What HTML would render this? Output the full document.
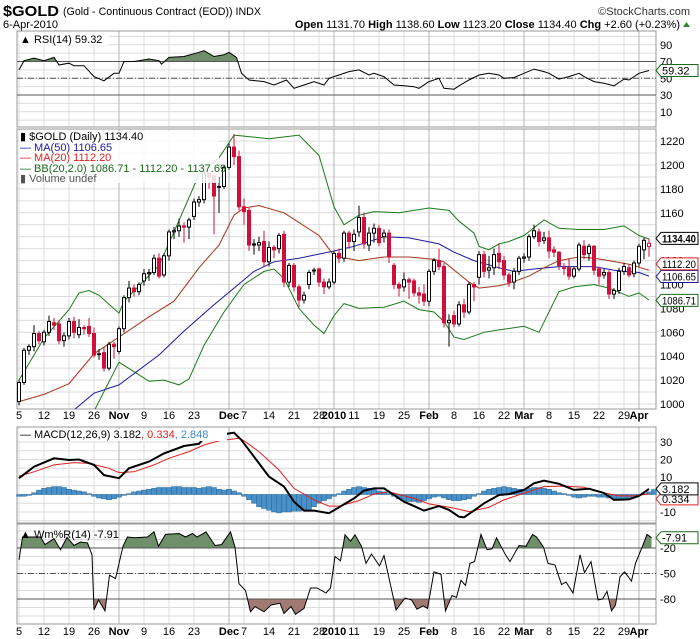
<!DOCTYPE html>
<html><head><meta charset="utf-8"><title>$GOLD chart</title>
<style>
html,body{margin:0;padding:0;background:#fff;}
svg{display:block;font-family:"Liberation Sans",sans-serif;}
</style></head>
<body>
<svg id="chart" width="700" height="639" viewBox="0 0 700 639" xmlns="http://www.w3.org/2000/svg">
<rect x="0" y="0" width="700" height="639" fill="#fff"/>
<text x="3" y="16" font-size="15" font-weight="bold" fill="#000" textLength="56" lengthAdjust="spacingAndGlyphs">$GOLD</text>
<text x="63" y="15" font-size="11" fill="#000" textLength="198" lengthAdjust="spacingAndGlyphs">(Gold - Continuous Contract (EOD)) INDX</text>
<text x="690" y="15" font-size="11" fill="#333" text-anchor="end">©StockCharts.com</text>
<text x="3" y="28" font-size="11" fill="#000">6-Apr-2010</text>
<text x="680" y="28" font-size="11" fill="#000" text-anchor="end"><tspan font-weight="bold">Open</tspan> 1131.70 <tspan font-weight="bold">High</tspan> 1138.60 <tspan font-weight="bold">Low</tspan> 1123.20 <tspan font-weight="bold">Close</tspan> 1134.40 <tspan font-weight="bold">Chg</tspan> +2.60 (+0.23%)</text>
<polygon points="683,27 690,27 686.5,22" fill="#2a8a2a"/>
<g id="layer"></g>
</svg>
<script>
// ---- data ----
const opens=[1002,1018,1045,1048,1059,1052,1060,1068,1067,1053,1057,1069,1058,1064,1065,1059,1042,1043,1030,1050,1044,1063,1089,1097,1094,1103,1109,1110,1122,1108,1124,1144,1145,1149,1148,1157,1169,1171,1193,1191,1182,1182,1198,1215,1207,1165,1162,1134,1133,1136,1119,1131,1130,1142,1102,1116,1098,1087,1100,1112,1113,1102,1098,1102,1126,1122,1143,1136,1144,1156,1133,1143,1147,1140,1143,1116,1100,1098,1104,1103,1093,1092,1086,1111,1120,1115,1068,1074,1067,1083,1077,1100,1106,1125,1112,1114,1126,1120,1108,1102,1111,1122,1123,1140,1144,1137,1139,1129,1127,1114,1114,1107,1113,1132,1126,1132,1113,1108,1110,1092,1095,1111,1114,1109,1118,1129,1131.7];
const highs=[1020,1047,1050,1066,1061,1062,1074,1072,1070,1060,1072,1073,1071,1066,1072,1064,1046,1048,1052,1052,1065,1091,1103,1100,1102,1113,1113,1125,1126,1126,1146,1148,1155,1152,1156,1172,1174,1195,1194,1193,1190,1200,1218,1226,1212,1172,1164,1138,1140,1145,1136,1133,1143,1145,1118,1118,1100,1094,1112,1114,1114,1105,1105,1128,1130,1145,1145,1146,1166,1160,1148,1151,1150,1146,1146,1118,1102,1110,1106,1105,1098,1100,1113,1122,1130,1118,1075,1078,1086,1088,1102,1102,1128,1128,1124,1130,1134,1124,1110,1114,1124,1126,1142,1150,1147,1144,1145,1132,1128,1118,1122,1115,1135,1137,1134,1133,1115,1113,1112,1097,1114,1118,1117,1120,1134,1139,1138.6];
const lows=[999,1016,1041,1044,1050,1049,1057,1062,1050,1048,1054,1055,1055,1058,1056,1039,1037,1027,1028,1038,1042,1060,1085,1090,1091,1099,1103,1108,1105,1106,1120,1138,1140,1135,1138,1154,1165,1168,1180,1142,1160,1180,1196,1200,1162,1150,1128,1125,1128,1115,1115,1122,1126,1098,1098,1094,1081,1084,1096,1108,1098,1092,1096,1100,1118,1119,1130,1128,1140,1130,1128,1135,1132,1135,1118,1096,1090,1094,1088,1090,1084,1082,1082,1108,1112,1064,1048,1064,1065,1072,1075,1086,1100,1106,1105,1108,1113,1104,1098,1096,1108,1118,1120,1138,1132,1134,1122,1123,1112,1108,1104,1105,1111,1121,1120,1108,1100,1105,1088,1088,1092,1108,1106,1106,1115,1121,1123.2];
const closes=[1018,1045,1048,1059,1053,1060,1069,1066,1053,1057,1069,1060,1064,1063,1059,1041,1042,1030,1050,1048,1063,1089,1097,1094,1100,1109,1110,1122,1107,1124,1144,1145,1149,1148,1154,1169,1171,1193,1190,1174,1182,1198,1215,1207,1165,1161,1133,1133,1135,1119,1131,1129,1141,1102,1116,1098,1087,1091,1110,1112,1102,1098,1102,1126,1122,1143,1136,1142,1156,1134,1143,1147,1135,1143,1123,1100,1097,1104,1102,1093,1091,1086,1111,1120,1115,1068,1070,1067,1083,1077,1100,1098,1125,1111,1114,1125,1119,1108,1102,1111,1122,1123,1140,1145,1136,1139,1128,1127,1116,1114,1107,1113,1133,1125,1132,1112,1107,1110,1092,1095,1111,1115,1108,1118,1132,1137,1134.4];

const ma20Idx=[0,5,10,15,20,26,31,36,40,43,45,48,53,60,63,68,73,78,83,85,90,92,96,98,102,105,108,112,115,118,122,126];
const ma20Val=[1002,1008,1017,1042,1056,1073,1086,1114,1133,1158,1164,1166,1160,1141,1124,1120,1123,1123,1121,1119,1102,1097,1099,1101,1107,1114,1120,1123,1122,1120,1117,1112];
const bbUpIdx=[0,5,10,12,14,16,20,21,28,31,36,40,43,50,56,60,63,65,68,71,76,82,86,88,91,92,94,96,98,101,105,108,112,117,121,124,126];
const bbUpVal=[1020,1055,1079,1093,1095,1091,1076,1086,1116,1144,1192,1206,1225,1222,1225,1208,1165,1150,1158,1161,1160,1164,1162,1153,1143,1132,1129,1134,1136,1141,1154,1147,1146,1146,1149,1141,1138];
const bbLoIdx=[0,8,15,20,23,26,29,32,34,37,41,45,49,51,53,56,59,61,63,65,68,73,77,80,83,85,87,89,93,96,101,104,108,111,115,118,122,124,126];
const bbLoVal=[960,968,994,1035,1027,1019,1020,1016,1021,1049,1077,1100,1111,1113,1105,1080,1066,1059,1074,1084,1080,1081,1086,1079,1077,1069,1056,1054,1060,1062,1065,1060,1094,1098,1100,1097,1090,1093,1087];
const ma50Idx=[0,6,11,15,20,28,33,39,43,47,51,56,63,67,73,78,84,87,91,96,99,103,108,115,119,124,126];
const ma50Val=[975,985,995,1009,1016,1041,1061,1083,1097,1111,1119,1122,1128,1132,1140,1139,1134,1127,1120,1114,1111,1113,1115,1115,1112,1110,1107];

const rsiIdx=[0,1,3,5,7,8,10,11,13,15,17,19,20,21,23,26,28,28.5,30,33,36,37,39,41,42,43.5,44.5,46,49,51,53.5,55,57,59,61,62,64,66,68,70,71,73,75,77,79,80,82,84,85,87,88,90,92,94,96,97,99,101,103,105,106,108,110,112,113,115,117,119,121,122,124,126];
const rsiVal=[60,71,74,71,75,66,68,65,65,52,47,56,56,70,70,73,71,67,75,76,81,83,76,78,81,75,56,48,46,42,48,38,42,46,42,50,54,58,60,54,56,52,42,41,40,38,46,50,38,37,41,48,54,56,54,50,51,56,61,58,56,49,52,56,52,46,44,41,49,48,56,59.3];

const macdIdx=[0,3,7,10,12,15,17,20,22,26,29,33,36,37,40,43,44.5,47,50,53,55,57,59,62,64,67,69,71,73,75,77,79,81,84,86,88,89,91,93,96,98,101,103,105,108,111,114,117,119,122,124,126];
const macdVal=[9.3,15.9,20.7,19.7,20,16.9,11.1,9.3,15,18.8,23.5,27.7,29,32.3,34,35.3,31.1,21.6,10.2,4.5,-4.1,-9.2,-9.2,-10.7,-7.3,-2.2,2.2,3.5,3.5,-0.3,-4.1,-6.6,-9.2,-6.6,-8.8,-12.7,-13,-9.2,-5,-0.3,0.2,2.6,6.4,7.9,6.1,2.6,3.3,0.8,-3.1,-2.8,-0.8,3.18];
const sigIdx=[0,3,7,11,14,18,20,23,27,30,34,37,40,44,45,48,52,55,59,62,64,68,71,74,79,82,87,90,94,97,101,105,109,113,116,120,123,126];
const sigVal=[10.5,13,16.9,18.2,17.8,15,12.5,13,16.9,20.7,24.5,28.3,30.7,32.1,30.7,24.5,14,3.5,-3.1,-6.6,-6.6,-3.5,0.2,1.5,-2.2,-5.4,-7.8,-9.8,-7.3,-3.1,0.8,4.5,4.8,4.1,1.5,-0.8,-0.8,0.33];
const histVal=[-1,-1,-0.5,1,2.5,3.5,4,4.5,4.5,4,3,2.5,2,1.5,0.5,-1,-2,-2.5,-3,-2.5,-1.5,-0.5,0.5,1.5,2,2.5,3,3.5,4,4,4,4.5,4.5,4,4,4,3.5,4,4.5,4,3,2.5,3,2,1,-1,-3,-5,-7,-8,-9,-10,-10.5,-10,-10,-9.5,-9.5,-9,-8.5,-7,-5,-3.5,-2.5,-1,0.5,2,3,4,4.5,4,3.5,3,2,1.5,0.5,-1,-2.5,-3.5,-4,-4,-4.5,-3.5,-2.5,-1.5,-1,-2,-3,-3.5,-3.5,-3,-2.5,-1,0.5,2,3,3.5,4,4.5,4,3.5,3,3,3.5,4,4,3.5,3,2,1,0.5,-0.5,-1.5,-2,-1.5,-1,-1,-1.5,-1.5,-2,-2.5,-3,-3,-2.5,-1.5,-0.5,0.5,1.5,2.85];

const wrIdx=[0,0.7,4.3,5.2,7,8.3,9.6,11,12.3,13.7,14.6,15,15.9,17.2,18.1,19.3,20.8,21.7,23,25.7,27,27.9,29.3,32,33.3,34.7,35.6,37.4,39.2,40.5,42.3,43.2,44,45.3,46.3,47.2,49,50.4,52.2,53,54.4,55.3,57,58.3,59.6,61.4,62.3,63.2,64.3,65.2,66.3,67.2,68.5,69.4,70.5,72.1,73,74.1,75.4,77.2,78.5,79.6,80.8,81.7,83,84.4,85.3,86.6,87.5,88.4,89.3,90.2,91.1,92.4,93.6,94.6,95.5,97.3,98.2,100,101.4,102.7,103.5,104.9,105.8,107.2,108.5,109.4,110.8,112.2,113.1,114.4,115.8,116.7,117.6,118.5,119.3,120.2,121.1,122.5,123.3,124.7,125.6,126.5];
const wrVal=[-34,-7,-7,-16,-9,-22,-7.5,-17,-13,-14,-28,-93,-81,-94,-52,-56,-18,-7,-8,-7,-1,-18,-4,-3,-7,-3,-7,-1,-17,-16,-1,-19,-62,-70,-95,-89,-95,-87,-85,-97,-89,-98,-91,-67,-67,-73,-67,-30,-35,-4.5,-12,-4.5,-18,-38,-27,-41,-29,-58,-93,-79,-81,-92,-88,-91,-48,-51,-94,-76,-78,-58,-64,-38,-36,-4,-22,-21,-8,-28,-36,-17,-18,-4,-7,-19,-38,-40,-63,-60,-73,-28,-49,-36,-81,-80,-71,-94,-87,-54,-48,-59,-38,-18,-4,-7.9];

const tickIdx=[0,5,10,15,20,25,30,35,42,45,50,55,60,63,67,72,77,82,87,92,97,101,106,111,116,121,124];
const tickLbl=["5","12","19","26","Nov","9","16","23","Dec","7","14","21","28","2010","11","19","25","Feb","8","16","22","Mar","8","15","22","29","Apr"];
const tickMajor=[0,0,0,0,1,0,0,0,1,0,0,0,0,1,0,0,0,1,0,0,0,1,0,0,0,0,1];
const priceTicks=[1000,1020,1040,1060,1080,1100,1120,1140,1160,1180,1200,1220];

// ---- axes ----
const L=17,R=656;
const P={top:129,bot:409}, RS={top:31,bot:127}, MC={top:427,bot:523}, WR={top:524,bot:624};
const xOf=i=>19+5*i;
const yP=v=>404-(v-1000)*1.195;
const yR=v=>78.3-(v-50)*0.8375;
const yM=v=>494.5-v*1.75;
const yW=v=>531-v*0.85;

const NS="http://www.w3.org/2000/svg";
const layer=document.getElementById('layer');
function mk(tag,attrs,parent){const e=document.createElementNS(NS,tag);for(const k in attrs)e.setAttribute(k,attrs[k]);(parent||layer).appendChild(e);return e;}

const defs=mk('defs',{});
[['clipP',P],['clipR',RS],['clipM',MC],['clipW',WR]].forEach(([id,b])=>{const c=mk('clipPath',{id:id},defs);mk('rect',{x:L,y:b.top,width:R-L,height:b.bot-b.top},c);});

function panel(name,b,hvals,yf){
  const g=mk('g',{});
  
  
  hvals.forEach(v=>{const y=yf(v);if(y>b.top&&y<b.bot){const l=mk('line',{x1:L,x2:R,y1:y,y2:y,stroke:'#dcdcdc','stroke-width':1},g);}});
  tickIdx.forEach((t,k)=>{const x=xOf(t);const l=mk('line',{x1:x,x2:x,y1:b.top,y2:b.bot,stroke:tickMajor[k]?'#b4b4b4':'#dcdcdc','stroke-width':1},g);});
  const r=mk('rect',{x:L,y:b.top,width:R-L,height:b.bot-b.top,fill:'none',stroke:'#999','stroke-width':1},g);
  
  
  return g;
}
function rng(a,b,s){const o=[];for(let v=a;v<=b;v+=s)o.push(v);return o;}
panel('rsi',RS,rng(0,100,10),yR);
panel('price',P,rng(1000,1230,10),yP);
panel('macd',MC,rng(-15,35,5),yM);
panel('wmr',WR,rng(-100,0,10),yW);

function path(idx,val,xf,yf){return idx.map((t,k)=>(k?'L':'M')+xf(t).toFixed(1)+','+yf(val[k]).toFixed(1)).join(' ');}
function hline(y,st,dash,name){const l=mk('line',{x1:L,x2:R,y1:y,y2:y,stroke:st,'stroke-width':1});if(dash)l.setAttribute('stroke-dasharray',dash);}
function fillAbove(idx,val,yf,thr,color,clipId,below,name){
  const yT=yf(thr);
  const d=path(idx,val,xOf,yf)+' L'+xOf(idx[idx.length-1])+','+yT+' L'+xOf(idx[0])+','+yT+' Z';
  const cid=clipId+(below?'b':'a')+thr;
  const c=mk('clipPath',{id:cid},defs);
  if(below) mk('rect',{x:L,y:yT,width:R-L,height:200},c); else mk('rect',{x:L,y:yT-200,width:R-L,height:200},c);
  const p=mk('path',{d:d,fill:color,'clip-path':'url(#'+cid+')'});
  
  
}

// ---- RSI ----
fillAbove(rsiIdx,rsiVal,yR,70,'#6f8f6a','rsi',false,'rsi-overbought-fill');
hline(yR(70),'#555',null,'rsi-70-line');
hline(yR(30),'#555',null,'rsi-30-line');
hline(yR(50),'#555','6,2,1,2','rsi-50-line');
let e=mk('path',{d:path(rsiIdx,rsiVal,xOf,yR),fill:'none',stroke:'#000','stroke-width':1,'clip-path':'url(#clipR)'});



// ---- price ----
function line(idx,val,yf,col,name,clip,w,dash){const p=mk('path',{d:path(idx,val,xOf,yf),fill:'none',stroke:col,'stroke-width':w||1,'clip-path':'url(#'+clip+')'});if(dash)p.setAttribute('stroke-dasharray',dash);}
line(bbUpIdx,bbUpVal,yP,'#1a7a1a','bb-upper-band','clipP');
line(bbLoIdx,bbLoVal,yP,'#1a7a1a','bb-lower-band','clipP');
line(ma50Idx,ma50Val,yP,'#1a1aa0','ma50-line','clipP');
line(ma20Idx,ma20Val,yP,'#e02020','ma20-line','clipP');
line(ma20Idx,ma20Val,yP,'#2a7a2a','bb-middle-band','clipP',1,'1,2');
for(let i=0;i<closes.length;i++){
  const o=opens[i],c=closes[i],h=highs[i],l=lows[i];
  const prev=i?closes[i-1]:o;
  const col=c<prev?'#d0103a':'#000';
  const x=xOf(i);
  const g=mk('g',{});
  
  
  mk('line',{x1:x,x2:x,y1:yP(h),y2:yP(l),stroke:col,'stroke-width':1},g);
  const top=yP(Math.max(o,c)),bot=yP(Math.min(o,c));
  mk('rect',{x:x-1.5,y:top,width:3,height:Math.max(bot-top,0.8),fill:c<o?col:'#fff',stroke:col,'stroke-width':1},g);
}

// ---- MACD ----
for(let i=0;i<histVal.length;i++){
  const v=histVal[i],y0=yM(0),y1=yM(v);
  const r=mk('rect',{x:xOf(i)-2.5,y:Math.min(y0,y1),width:5,height:Math.abs(y1-y0),fill:'#4a90c8',stroke:'#2a6a9a','stroke-width':0.5});
  
  
}
line(sigIdx,sigVal,yM,'#e02020','macd-signal-line','clipM');
line(macdIdx,macdVal,yM,'#000','macd-line','clipM',2);

// ---- Williams %R ----
fillAbove(wrIdx,wrVal,yW,-20,'#6f8f6a','wr',false,'wmr-overbought-fill');
fillAbove(wrIdx,wrVal,yW,-80,'#a07a72','wr',true,'wmr-oversold-fill');
hline(yW(-20),'#555',null,'wmr-20-line');
hline(yW(-80),'#555',null,'wmr-80-line');
hline(yW(-50),'#555','6,2,1,2','wmr-50-line');
line(wrIdx,wrVal,yW,'#000','wmr-line','clipW');

// ---- axis labels ----
function txt(x,y,s,attrs,name){const t=mk('text',Object.assign({x:x,y:y,'font-size':11,fill:'#000'},attrs||{}));t.textContent=s;return t;}
[90,70,50,30,10].forEach(v=>txt(660,yR(v)+4,String(v),{},'rsi-axis-label'));
priceTicks.forEach(v=>txt(660,yP(v)+4,String(v),{},'price-axis-label'));
[30,20,10,-10].forEach(v=>txt(660,yM(v)+4,String(v),{},'macd-axis-label'));
[-20,-50,-80].forEach(v=>txt(660,yW(v)+4,String(v),{},'wmr-axis-label'));
tickIdx.forEach((t,k)=>{
  [419,635].forEach(y=>txt(xOf(t),y,tickLbl[k],{'text-anchor':'middle','font-weight':tickMajor[k]?'bold':'normal'},'date-axis-label'));
});

// ---- value tags ----
function tag(y,s,col,bold,name){
  const g=mk('g',{});
  
  
  mk('path',{d:`M${R},${y} L${R+5},${y-6} L${R+42},${y-6} L${R+42},${y+6} L${R+5},${y+6} Z`,fill:'#fff',stroke:col,'stroke-width':1},g);
  const at={x:R+6,y:y+4,'font-size':11,fill:'#000','font-weight':bold?'bold':'normal'};
  if(s.length>=7){at.textLength=34;at.lengthAdjust='spacingAndGlyphs';}
  const t=mk('text',at,g);t.textContent=s;
}
tag(yR(59.32),'59.32','#1a6a1a',false,'rsi-value-tag');
tag(yP(1086.71),'1086.71','#1a6a1a',false,'bb-lower-value-tag');
tag(yP(1106.65),'1106.65','#1a1aa0',false,'ma50-value-tag');
tag(yP(1112.20)-6,'1112.20','#e02020',false,'ma20-value-tag');
tag(yP(1134.40)-5,'1134.40','#000',true,'close-value-tag');
tag(yM(0.334)+5,'0.334','#e02020',false,'macd-signal-tag');
tag(yM(3.182),'3.182','#000',false,'macd-value-tag');
tag(yW(-7.91),'-7.91','#1a6a1a',false,'wmr-value-tag');

// ---- legends ----
function legend(x,y,parts,name){
  const t=mk('text',{x:x,y:y,'font-size':11,fill:'#000'});
  
  
  parts.forEach(p=>{const s=mk('tspan',{fill:p[1]},t);s.textContent=p[0];});
}
const lg=mk('rect',{x:19,y:33,width:90,height:12,fill:'#fff'});


legend(20,43,[['▲ RSI(14) 59.32','#000']],'rsi-legend');
const pl=mk('rect',{x:19,y:131,width:200,height:52,fill:'#fff','fill-opacity':0.85});


legend(20,140,[['▮ $GOLD (Daily) 1134.40','#000']],'price-legend-symbol');
legend(20,151,[['— MA(50) 1106.65','#1a1aa0']],'legend-ma50');
legend(20,161,[['— MA(20) 1112.20','#e02020']],'legend-ma20');
legend(20,172,[['— BB(20,2.0) 1086.71 - 1112.20 - 1137.69','#1a6a1a']],'legend-bb');
legend(20,182,[['▮ Volume undef','#555']],'legend-volume');
const ml=mk('rect',{x:19,y:429,width:208,height:12,fill:'#fff'});


legend(20,438,[['— MACD(12,26,9) 3.182','#000'],[', 0.334','#e02020'],[', 2.848','#3a8ac0']],'macd-legend');
legend(20,538,[['▲ Wm%R(14) -7.91','#000']],'wmr-legend');
</script>
</body></html>
